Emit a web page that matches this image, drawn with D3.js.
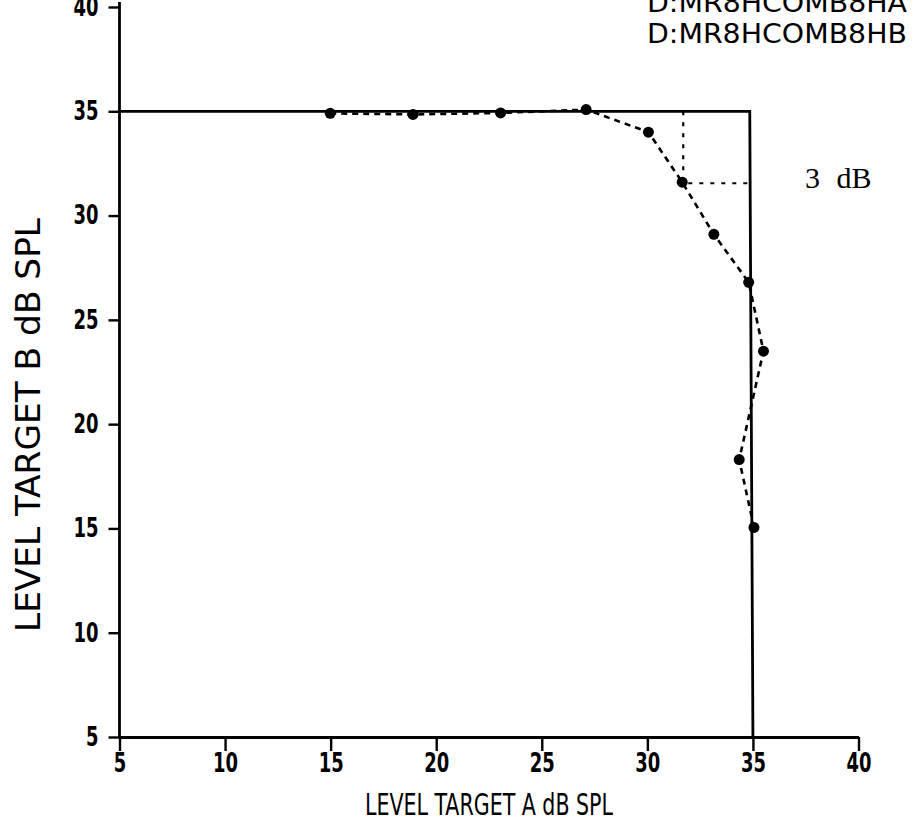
<!DOCTYPE html>
<html>
<head>
<meta charset="utf-8">
<script src="https://cdn.jsdelivr.net/npm/d3@7"></script>
<style>
  body { margin: 0; background: #fff; }
  svg { display: block; }
</style>
</head>
<body>
<div id="chart"></div>
<script>
// measured points (level of target A vs level of target B)
var levelA = [14.98, 18.9, 23.05, 27.1, 30.05, 31.65, 33.15, 34.8, 35.5, 34.35, 35.05];
var levelB = [34.9, 34.85, 34.92, 35.08, 34.0, 31.6, 29.1, 26.8, 23.5, 18.3, 15.05];

// solid boundary (independent channels)
var boundA = [5, 34.85, 35.0];
var boundB = [35, 35, 5];

// 3 dB criterion lines
var critA = [31.7, 31.7, 34.9];
var critB = [35, 31.55, 31.55];

var xTicks = [5, 10, 15, 20, 25, 30, 35, 40];
var yTicks = [5, 10, 15, 20, 25, 30, 35, 40];

var fileLabels = ["D:MR8HCOMB8HA", "D:MR8HCOMB8HB"];

var W = 915, H = 827;

var svg = d3.select("#chart").append("svg")
  .attr("width", W)
  .attr("height", H);

svg.append("rect").attr("width", W).attr("height", H).attr("fill", "#fff");

var x = d3.scaleLinear().domain([5, 40]).range([119.5, 858.5]);
var y = d3.scaleLinear().domain([5, 40]).range([737, 7]);

var tickFont = "'Liberation Sans Narrow', 'DejaVu Sans Condensed', 'DejaVu Sans', sans-serif";

// x axis
var xAxis = svg.append("g")
  .attr("transform", `translate(0, ${y(5)})`)
  .call(d3.axisBottom(x).tickValues(xTicks).tickSize(14).tickSizeOuter(0).tickPadding(3));

// y axis
var yAxis = svg.append("g")
  .attr("transform", `translate(${x(5)}, 0)`)
  .call(d3.axisLeft(y).tickValues(yTicks).tickSize(11).tickSizeOuter(0).tickPadding(10));

[xAxis, yAxis].forEach(function(ax) {
  ax.select(".domain").attr("stroke", "#000").attr("stroke-width", 2.8);
  ax.selectAll(".tick line").attr("stroke", "#000").attr("stroke-width", 2.4);
  ax.selectAll(".tick text")
    .attr("fill", "#000")
    .attr("font-family", tickFont)
    .attr("font-weight", "bold")
    .attr("font-size", 26)
    .attr("textLength", d => String(d).length * 12.5)
    .attr("lengthAdjust", "spacingAndGlyphs");
});
// y axis line runs a little past the top tick
yAxis.select(".domain").attr("d", `M0,${y(5)}V2`);

// axis titles
svg.append("text")
  .attr("x", 489)
  .attr("y", 815)
  .attr("text-anchor", "middle")
  .attr("font-family", tickFont)
  .attr("font-size", 30)
  .attr("textLength", 248)
  .attr("lengthAdjust", "spacingAndGlyphs")
  .text("LEVEL TARGET A dB SPL");

svg.append("text")
  .attr("transform", "translate(40, 425) rotate(-90)")
  .attr("text-anchor", "middle")
  .attr("font-family", tickFont)
  .attr("font-size", 34)
  .attr("textLength", 414)
  .attr("lengthAdjust", "spacingAndGlyphs")
  .text("LEVEL TARGET B dB SPL");

// boundary lines
var line = d3.line().x(d => x(d[0])).y(d => y(d[1]));

svg.append("path")
  .datum(d3.zip(boundA, boundB))
  .attr("d", line)
  .attr("fill", "none")
  .attr("stroke", "#000")
  .attr("stroke-width", 2.8);

svg.append("path")
  .datum(d3.zip(critA, critB))
  .attr("d", line)
  .attr("fill", "none")
  .attr("stroke", "#000")
  .attr("stroke-width", 2.2)
  .attr("stroke-dasharray", "4,7");

svg.append("path")
  .datum(d3.zip(levelA, levelB))
  .attr("d", line)
  .attr("fill", "none")
  .attr("stroke", "#000")
  .attr("stroke-width", 2.6)
  .attr("stroke-dasharray", "6,5");

svg.selectAll("circle.pt")
  .data(d3.zip(levelA, levelB))
  .enter()
  .append("circle")
  .attr("class", "pt")
  .attr("cx", d => x(d[0]))
  .attr("cy", d => y(d[1]))
  .attr("r", 5.5)
  .attr("fill", "#000");

// 3 dB annotation
svg.append("text")
  .attr("x", 805)
  .attr("y", 188)
  .attr("font-family", "'Liberation Serif', 'Times New Roman', serif")
  .attr("font-size", 30)
  .attr("word-spacing", 9)
  .text("3 dB");

// file labels at top right
svg.selectAll("text.file")
  .data(fileLabels)
  .enter()
  .append("text")
  .attr("class", "file")
  .attr("x", 647)
  .attr("y", (d, i) => 12 + i * 31)
  .attr("font-family", "'DejaVu Sans', sans-serif")
  .attr("font-size", 27)
  .attr("textLength", 260)
  .attr("lengthAdjust", "spacingAndGlyphs")
  .text(d => d);
</script>
</body>
</html>
